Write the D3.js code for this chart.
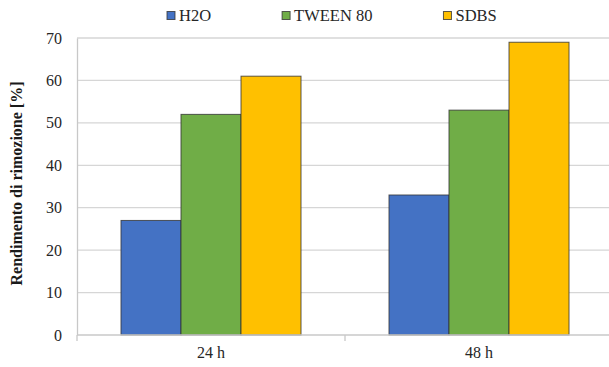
<!DOCTYPE html>
<html>
<head>
<meta charset="utf-8">
<script src="https://cdn.jsdelivr.net/npm/d3@7"></script>
<style>
  html, body { margin: 0; padding: 0; background: #fff; }
  svg { display: block; font-family: "Liberation Serif", "Times New Roman", serif; }
</style>
</head>
<body>
<svg id="chart" width="609" height="367"></svg>
<script>
// Removal yield by washing agent and contact time
const categories = ["24 h", "48 h"];
const seriesNames = ["H2O", "TWEEN 80", "SDBS"];
const seriesColors = ["#4472C4", "#70AD47", "#FFC000"];
const h2oValues = [27, 33];
const tweenValues = [52, 53];
const sdbsValues = [61, 69];
const yTicks = [0, 10, 20, 30, 40, 50, 60, 70];
const yTitle = "Rendimento di rimozione [%]";

const seriesValues = [h2oValues, tweenValues, sdbsValues];

const svg = d3.select("#chart");
const margin = { left: 77, right: -4, top: 38, bottom: 32 };
const W = 609, H = 367;
const plotBottom = H - margin.bottom;
const textColor = "#262626";

const x = d3.scaleBand().domain(categories).range([margin.left, W - margin.right]).paddingInner(0).paddingOuter(0);
const xs = d3.scaleBand().domain(seriesNames).range([0, x.bandwidth()]).paddingInner(0).paddingOuter(0.733);
const y = d3.scaleLinear().domain([0, 70]).range([plotBottom, margin.top]);

// horizontal gridlines
svg.append("g")
  .selectAll("line")
  .data(yTicks.filter(d => d > 0))
  .join("line")
  .attr("x1", margin.left).attr("x2", W)
  .attr("y1", d => y(d)).attr("y2", d => y(d))
  .attr("stroke", "#d6d6d6").attr("stroke-width", 1.3);

// y axis line and labels
const yAxis = d3.axisLeft(y).tickValues(yTicks).tickSize(0).tickPadding(15);
const gy = svg.append("g").attr("transform", `translate(${margin.left},0)`).call(yAxis);
gy.select(".domain").attr("stroke", "#c8c8c8").attr("stroke-width", 1.3);
gy.selectAll("text")
  .attr("font-family", "Liberation Serif")
  .attr("font-size", 16)
  .attr("fill", textColor);

// bars
const rows = categories.map((c, i) => ({ cat: c, vals: seriesNames.map((s, j) => ({ s, v: seriesValues[j][i], color: seriesColors[j] })) }));
svg.append("g")
  .selectAll("g")
  .data(rows)
  .join("g")
  .attr("transform", d => `translate(${x(d.cat)},0)`)
  .selectAll("rect")
  .data(d => d.vals)
  .join("rect")
  .attr("x", d => xs(d.s))
  .attr("width", xs.bandwidth())
  .attr("y", d => y(d.v))
  .attr("height", d => y(0) - y(d.v))
  .attr("fill", d => d.color)
  .attr("stroke", "#333")
  .attr("stroke-opacity", 0.8)
  .attr("stroke-width", 1);

// x axis with category separators
const xAxis = d3.axisBottom(x).tickSize(0).tickPadding(12);
const gx = svg.append("g").attr("transform", `translate(0,${plotBottom})`).call(xAxis);
gx.select(".domain").remove();
gx.selectAll("text")
  .attr("font-family", "Liberation Serif")
  .attr("font-size", 16)
  .attr("fill", textColor);
svg.append("line")
  .attr("x1", margin.left).attr("x2", W)
  .attr("y1", plotBottom).attr("y2", plotBottom)
  .attr("stroke", "#c8c8c8").attr("stroke-width", 1.3);
const edges = categories.map(c => x(c)).concat([x(categories[categories.length - 1]) + x.bandwidth()]);
svg.append("g")
  .selectAll("line")
  .data(edges)
  .join("line")
  .attr("x1", d => d).attr("x2", d => d)
  .attr("y1", plotBottom).attr("y2", plotBottom + 6)
  .attr("stroke", "#c8c8c8").attr("stroke-width", 1.3);

// y axis title
svg.append("text")
  .attr("transform", `translate(22,${(margin.top + plotBottom) / 2 - 3}) rotate(-90)`)
  .attr("text-anchor", "middle")
  .attr("font-family", "Liberation Serif")
  .attr("font-weight", "bold")
  .attr("font-size", 16)
  .attr("fill", "#1a1a1a")
  .text(yTitle);

// legend
const legend = svg.append("g").attr("transform", "translate(167,0)");
let lx = 0;
seriesNames.forEach((name, i) => {
  const item = legend.append("g").attr("transform", `translate(${lx},0)`);
  item.append("rect")
    .attr("x", 0).attr("y", 11.5).attr("width", 8).attr("height", 8)
    .attr("fill", seriesColors[i]).attr("stroke", "#333").attr("stroke-opacity", 0.8).attr("stroke-width", 1);
  const t = item.append("text")
    .attr("x", 12).attr("y", 21)
    .attr("font-family", "Liberation Serif")
    .attr("font-size", 16.5)
    .attr("fill", textColor)
    .text(name);
  lx += 12 + t.node().getComputedTextLength() + 71;
});
</script>
</body>
</html>
